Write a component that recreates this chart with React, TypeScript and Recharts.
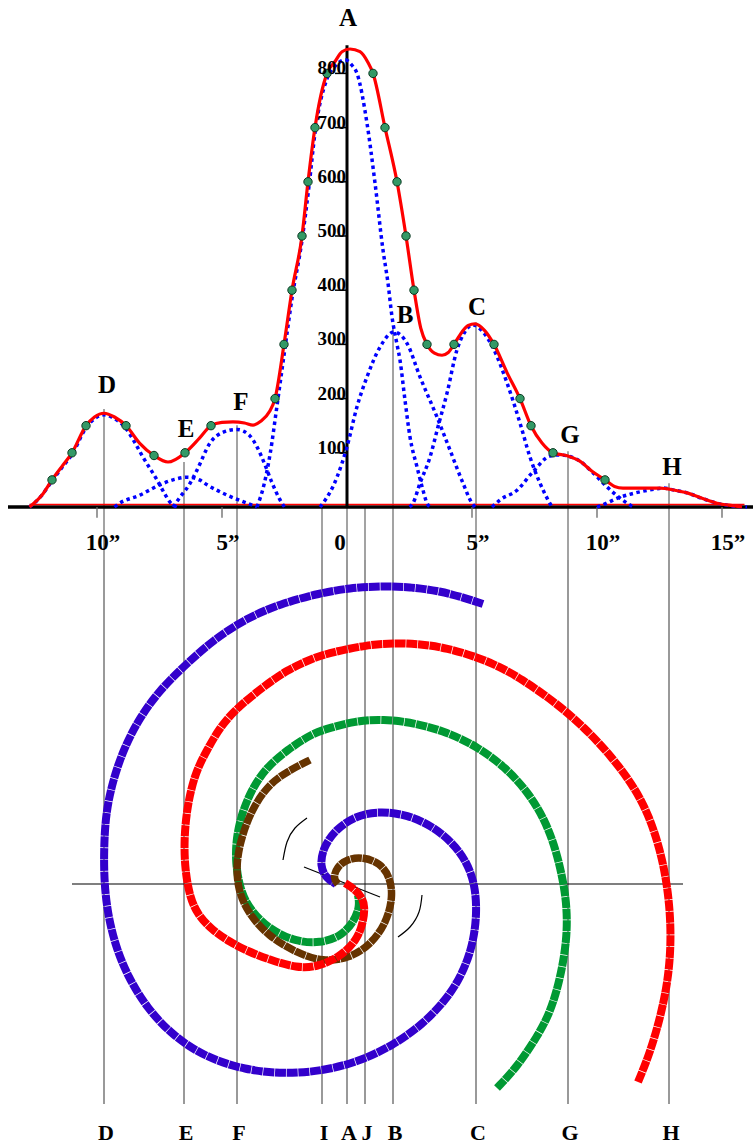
import React from 'react';
import { ComposedChart, Line, Scatter, XAxis, YAxis, ReferenceLine } from 'recharts';

// both panels share one x scale (arcseconds), 25px per arcsec, 0 at x=347
const W = 753;
const TOP_H = 560;
const BOTTOM_H = 586;
const X_DOMAIN: [number, number] = [-13.88, 16.24];
const TOP_Y: [number, number] = [-97.79, 935.42];
const BOTTOM_Y: [number, number] = [-10.48, 12.96];

type Pt = { x: number; y: number };
const pts = (rows: number[][]): Pt[] => rows.map(([x, y]) => ({ x, y }));

// ---- profile: summed intensity, observed points and fitted components ----
const totalCurve = pts([
  [-12.7, 0], [-12.2, 22], [-11.8, 50], [-11.4, 75], [-11.0, 100], [-10.44, 150], [-10.1, 166],
  [-9.72, 173], [-9.3, 166], [-8.84, 150], [-8.3, 118], [-7.72, 95], [-7.16, 83], [-6.48, 100],
  [-5.9, 127], [-5.44, 150], [-5.0, 156], [-4.56, 157], [-4.1, 155], [-3.76, 151], [-3.45, 158],
  [-3.1, 176], [-2.88, 200], [-2.52, 300], [-2.2, 400], [-1.8, 500], [-1.56, 600], [-1.28, 700],
  [-0.8, 800], [-0.48, 822], [-0.2, 840], [0.12, 845], [0.52, 840], [0.84, 820], [1.04, 800],
  [1.52, 700], [2.0, 600], [2.36, 500], [2.68, 400], [2.95, 330], [3.2, 300], [3.5, 284],
  [3.8, 280], [4.05, 285], [4.28, 300], [4.6, 323], [4.85, 335], [5.12, 338], [5.5, 326],
  [5.88, 300], [6.4, 248], [6.92, 200], [7.36, 150], [7.8, 118], [8.24, 100], [8.84, 94],
  [9.3, 85], [9.8, 66], [10.32, 50], [10.7, 38], [11.04, 35], [12.0, 35], [12.52, 35],
  [13.1, 31], [13.6, 26], [14.2, 16], [14.8, 7], [15.5, 2], [15.8, 0],
]);

const observed = pts([
  [-11.8, 50], [-11.0, 100], [-10.44, 150], [-8.84, 150], [-7.72, 95], [-6.48, 100], [-5.44, 150],
  [-2.88, 200], [-2.52, 300], [-2.2, 400], [-1.8, 500], [-1.56, 600], [-1.28, 700], [-0.8, 800],
  [1.04, 800], [1.52, 700], [2.0, 600], [2.36, 500], [2.68, 400], [3.2, 300], [4.28, 300],
  [5.88, 300], [6.92, 200], [7.36, 150], [8.24, 100], [10.32, 50],
]);

const compA = pts([
  [-3.6, 0], [-3.3, 45], [-3.0, 120], [-2.88, 160], [-2.52, 280], [-2.2, 385], [-1.8, 492],
  [-1.52, 592], [-1.28, 690], [-0.8, 790], [-0.5, 812], [-0.08, 825], [0.2, 815], [0.4, 800],
  [0.8, 708], [1.12, 598], [1.44, 474], [1.64, 413], [1.8, 351], [2.0, 300], [2.12, 271],
  [2.32, 197], [2.52, 129], [2.8, 74], [3.04, 31], [3.2, 7], [3.32, 0],
]);
const compB = pts([
  [-1.08, 0], [-0.96, 7], [-0.4, 55], [0, 111], [0.4, 185], [0.8, 240], [1.32, 295], [1.88, 323],
  [2.4, 302], [2.92, 240], [3.6, 166], [4.12, 105], [4.64, 44], [5.0, 7], [5.12, 0],
]);
const compC = pts([
  [2.5, 0], [2.64, 7], [2.92, 44], [3.32, 92], [3.64, 148], [4.0, 210], [4.4, 290], [4.7, 322],
  [5.04, 336], [5.4, 325], [5.88, 290], [6.4, 229], [6.92, 155], [7.32, 92], [7.72, 44],
  [8.04, 13], [8.2, 0],
]);
const compD = pts([
  [-12.7, 0], [-12.2, 22], [-11.8, 48], [-11.4, 73], [-11.0, 97], [-10.44, 146], [-10.1, 163],
  [-9.72, 170], [-9.3, 163], [-8.84, 145], [-8.5, 120], [-8.16, 92], [-7.6, 50], [-7.3, 25],
  [-7.08, 9], [-6.8, 0],
]);
const compE = pts([
  [-9.3, 0], [-9.16, 5], [-8.28, 22], [-7.48, 41], [-6.9, 51], [-6.4, 55], [-5.9, 50],
  [-5.6, 41], [-4.8, 22], [-4.0, 7], [-3.6, 0],
]);
const compF = pts([
  [-6.96, 0], [-6.68, 18], [-6.3, 42], [-6.0, 68], [-5.48, 118], [-5.0, 137], [-4.4, 143],
  [-3.9, 132], [-3.6, 111], [-3.3, 80], [-3.0, 45], [-2.7, 15], [-2.5, 0],
]);
const compG = pts([
  [5.8, 0], [6.12, 13], [6.8, 31], [7.44, 65], [8.12, 94], [8.5, 96], [8.84, 94], [9.3, 85],
  [9.8, 65], [10.4, 37], [11.2, 7], [11.44, 0],
]);
const compH = pts([
  [10.0, 0], [10.12, 2], [10.92, 18], [11.72, 28], [12.3, 33], [12.64, 35], [13.1, 31],
  [13.6, 26], [14.2, 16], [14.8, 7], [15.4, 2], [16.0, 0],
]);
const components = [compA, compB, compC, compD, compE, compF, compG, compH];

const yTicks = [100, 200, 300, 400, 500, 600, 700, 800];
const xTicks = [-10, -5, 0, 5, 10, 15];
const xTickLabels = ['10”', '5”', '0', '5”', '10”', '15”'];
const axisTop = 852;

// peak letters over the profile
const peakNames = ['A', 'B', 'C', 'D', 'E', 'F', 'G', 'H'];
const peakLabelX = [0.04, 2.32, 5.2, -9.6, -6.44, -4.24, 8.92, 13.0];
const peakLabelY = [887, 340, 354, 210, 129, 179, 118, 59];

// guide lines dropping from the profile through the spiral
const guideNames = ['D', 'E', 'F', 'I', 'A', 'J', 'B', 'C', 'G', 'H'];
const guideX = [-9.72, -6.52, -4.4, -1.0, 0, 0.72, 1.84, 5.16, 8.84, 12.88];
const guideTop = [181, 83, 151, 0, 0, 0, 332, 341, 103, 44];
const guideBottom = -8.8;

// ---- spiral arms (arcsec offsets from the nucleus) ----
const armBlue = pts([
  [5.44, 11.2], [4.72, 11.44], [3.72, 11.72], [2.52, 11.88], [1.32, 11.92], [0.12, 11.84],
  [-1.08, 11.64], [-2.68, 11.2], [-4.0, 10.64], [-5.36, 9.76], [-6.56, 8.68], [-7.48, 7.76],
  [-8.28, 6.68], [-8.92, 5.44], [-9.36, 4.16], [-9.64, 2.88], [-9.72, 1.56], [-9.72, 0.24],
  [-9.6, -1.04], [-9.28, -2.44], [-8.76, -3.72], [-8.0, -4.96], [-7.0, -6.04], [-5.68, -6.92],
  [-4.08, -7.44], [-2.48, -7.6], [-1.0, -7.48], [0.44, -7.12], [1.8, -6.48], [3.0, -5.64],
  [3.96, -4.64], [4.6, -3.64], [5.04, -2.44], [5.2, -1.16], [5.12, -0.04], [4.8, 0.88],
  [4.2, 1.68], [3.4, 2.32], [2.44, 2.76], [1.32, 2.92], [0.32, 2.72], [-0.48, 2.16],
  [-0.96, 1.44], [-1.08, 0.72], [-0.84, 0.24], [-0.44, 0],
]);
const armRed = pts([
  [11.64, -7.92], [12.12, -6.76], [12.56, -5.24], [12.84, -3.84], [12.96, -2.44], [12.92, -1.04],
  [12.76, 0.24], [12.52, 1.36], [12.12, 2.64], [11.52, 3.84], [10.6, 5.08], [9.52, 6.24],
  [8.32, 7.28], [6.92, 8.24], [6.12, 8.68], [5.2, 9.08], [4.0, 9.44], [2.92, 9.6], [1.84, 9.64],
  [0.8, 9.56], [-0.56, 9.28], [-1.36, 9.04], [-2.4, 8.56], [-3.36, 7.88], [-4.4, 7.04],
  [-5.08, 6.28], [-5.6, 5.36], [-6.08, 4.44], [-6.4, 3.08], [-6.52, 1.76], [-6.48, 0.56],
  [-6.28, -0.56], [-5.96, -1.24], [-5.4, -1.84], [-4.68, -2.32], [-4.0, -2.68], [-3.08, -3.04],
  [-2.0, -3.36], [-1.2, -3.32], [-0.28, -2.92], [0.4, -2.24], [0.64, -1.56], [0.72, -0.92],
  [0.6, -0.52], [0.24, -0.16], [-0.08, 0.04],
]);
const armGreen = pts([
  [6.0, -8.16], [6.8, -7.32], [7.6, -6.12], [8.12, -5.16], [8.52, -3.84], [8.8, -2.24],
  [8.8, -0.92], [8.64, 0.16], [8.36, 1.36], [7.92, 2.56], [7.24, 3.68], [6.32, 4.68],
  [5.24, 5.48], [4.0, 6.08], [2.72, 6.44], [1.44, 6.6], [0.32, 6.52], [-0.68, 6.24],
  [-1.36, 6.04], [-2.4, 5.36], [-3.2, 4.68], [-3.76, 3.88], [-4.16, 2.96], [-4.4, 2.04],
  [-4.48, 0.96], [-4.28, -0.24], [-3.88, -1.04], [-3.08, -1.84], [-2.0, -2.32], [-1.08, -2.36],
  [-0.28, -2.12], [0.24, -1.56], [0.52, -0.92], [0.44, -0.44],
]);
const armBrown = pts([
  [-1.48, 4.96], [-2.28, 4.56], [-3.08, 4.04], [-3.76, 3.08], [-4.2, 1.96], [-4.44, 0.84],
  [-4.36, -0.24], [-3.96, -1.16], [-3.16, -2.08], [-2.0, -2.76], [-0.96, -3.12], [0.12, -2.96],
  [0.92, -2.44], [1.56, -1.6], [1.84, -0.52], [1.72, 0.28], [1.32, 0.84], [0.64, 1.08],
  [0, 1.0], [-0.4, 0.68], [-0.56, 0.24], [-0.36, 0],
]);
const arcUpper = pts([[-1.6, 2.64], [-2.08, 2.24], [-2.4, 1.68], [-2.56, 0.96]]);
const arcLower = pts([[3.0, -0.44], [2.88, -1.12], [2.52, -1.72], [2.04, -2.12]]);

const FONT = '"Liberation Serif", "Times New Roman", serif';

const textShape = (size: number, anchor: string, dxFn: (p: any) => number, dy: number) =>
  (props: any) => (
    <text
      x={props.cx + dxFn(props.payload)}
      y={props.cy + dy}
      textAnchor={anchor}
      fontFamily={FONT}
      fontWeight="bold"
      fontSize={size}
      fill="#000"
    >
      {props.payload.label}
    </text>
  );

const dotShape = (props: any) => (
  <circle cx={props.cx} cy={props.cy} r={4.2} fill="#339966" stroke="#0b3a22" strokeWidth={1} />
);

const Profile = () => {
  const peakLabels = peakNames.map((label, i) => ({ x: peakLabelX[i], y: peakLabelY[i], label }));
  const yTickLabels = yTicks.map((v) => ({ x: 0, y: v, label: String(v) }));
  const xLabels = xTicks.map((t, i) => ({ x: t, y: 0, label: xTickLabels[i] }));
  return (
    <ComposedChart width={W} height={TOP_H} margin={{ top: 0, right: 0, bottom: 0, left: 0 }}>
      <XAxis type="number" dataKey="x" domain={X_DOMAIN} allowDataOverflow hide />
      <YAxis type="number" dataKey="y" domain={TOP_Y} allowDataOverflow hide />
      {guideX.map((x, i) => (
        <ReferenceLine
          key={'g' + i}
          segment={[{ x, y: guideTop[i] }, { x, y: TOP_Y[0] }]}
          stroke="#666"
          strokeWidth={1.2}
          ifOverflow="visible"
        />
      ))}
      <ReferenceLine segment={[{ x: -13.56, y: 0 }, { x: 16.24, y: 0 }]} stroke="#000" strokeWidth={3.5} ifOverflow="visible" />
      <ReferenceLine segment={[{ x: -12.7, y: 4.5 }, { x: 15.9, y: 4.5 }]} stroke="#ff0000" strokeWidth={1.5} ifOverflow="visible" />
      {xTicks.filter((t) => t !== 0).map((t) => (
        <ReferenceLine key={'xt' + t} segment={[{ x: t, y: 0 }, { x: t, y: -20 }]} stroke="#666" strokeWidth={1.3} ifOverflow="visible" />
      ))}
      {yTicks.map((v) => (
        <ReferenceLine key={'yt' + v} segment={[{ x: -0.48, y: v }, { x: 0, y: v }]} stroke="#000" strokeWidth={1.5} ifOverflow="visible" />
      ))}
      <ReferenceLine segment={[{ x: 0, y: 0 }, { x: 0, y: axisTop }]} stroke="#000" strokeWidth={3} ifOverflow="visible" />
      {components.map((c, i) => (
        <Line
          key={'c' + i}
          data={c}
          dataKey="y"
          type="monotone"
          stroke="#0000ff"
          strokeWidth={3.5}
          strokeDasharray="3.5 3.5"
          dot={false}
          activeDot={false}
          isAnimationActive={false}
        />
      ))}
      <Line
        data={totalCurve}
        dataKey="y"
        type="monotone"
        stroke="#ff0000"
        strokeWidth={3.2}
        dot={false}
        activeDot={false}
        isAnimationActive={false}
      />
      <Scatter data={observed} dataKey="y" shape={dotShape} isAnimationActive={false} />
      <Scatter data={peakLabels} dataKey="y" shape={textShape(25, 'middle', () => 0, 0)} isAnimationActive={false} />
      <Scatter data={yTickLabels} dataKey="y" shape={textShape(19, 'end', () => -1, 1)} isAnimationActive={false} />
      <Scatter
        data={xLabels}
        dataKey="y"
        shape={textShape(23, 'middle', (p) => (p.x === 0 ? -7 : 6), 43)}
        isAnimationActive={false}
      />
    </ComposedChart>
  );
};

const arm = (data: Pt[], color: string, width: number, key: string) => (
  <Line
    key={key}
    data={data}
    dataKey="y"
    type="basis"
    stroke={color}
    strokeWidth={width}
    strokeDasharray="11 0.7"
    strokeLinecap="butt"
    dot={false}
    activeDot={false}
    isAnimationActive={false}
  />
);

const Spiral = () => {
  const footLabels = guideNames.map((label, i) => ({ x: guideX[i], y: guideBottom, label }));
  return (
    <ComposedChart width={W} height={BOTTOM_H} margin={{ top: 0, right: 0, bottom: 0, left: 0 }}>
      <XAxis type="number" dataKey="x" domain={X_DOMAIN} allowDataOverflow hide />
      <YAxis type="number" dataKey="y" domain={BOTTOM_Y} allowDataOverflow hide />
      {guideX.map((x, i) => (
        <ReferenceLine
          key={'g' + i}
          segment={[{ x, y: BOTTOM_Y[1] }, { x, y: guideBottom }]}
          stroke="#555"
          strokeWidth={1.2}
          ifOverflow="visible"
        />
      ))}
      <ReferenceLine segment={[{ x: -11.0, y: 0 }, { x: 13.44, y: 0 }]} stroke="#000" strokeWidth={1.2} ifOverflow="visible" />
      <ReferenceLine segment={[{ x: -1.72, y: 0.68 }, { x: 1.32, y: -0.52 }]} stroke="#000" strokeWidth={1.2} ifOverflow="visible" />
      {arm(armBlue, '#3300cc', 8, 'blue')}
      {arm(armGreen, '#009933', 8, 'green')}
      {arm(armBrown, '#663300', 7.5, 'brown')}
      {arm(armRed, '#ff0000', 8, 'red')}
      {[arcUpper, arcLower].map((a, i) => (
        <Line
          key={'arc' + i}
          data={a}
          dataKey="y"
          type="natural"
          stroke="#000"
          strokeWidth={1.2}
          dot={false}
          activeDot={false}
          isAnimationActive={false}
        />
      ))}
      <Scatter
        data={footLabels}
        dataKey="y"
        shape={textShape(22, 'middle', () => 2, 36)}
        isAnimationActive={false}
      />
    </ComposedChart>
  );
};

export default function App() {
  return (
    <div style={{ position: 'absolute', left: 0, top: 0, width: W, height: TOP_H + BOTTOM_H, background: '#fff' }}>
      <div style={{ position: 'absolute', left: 0, top: 0 }}>
        <Profile />
      </div>
      <div style={{ position: 'absolute', left: 0, top: TOP_H }}>
        <Spiral />
      </div>
    </div>
  );
}
